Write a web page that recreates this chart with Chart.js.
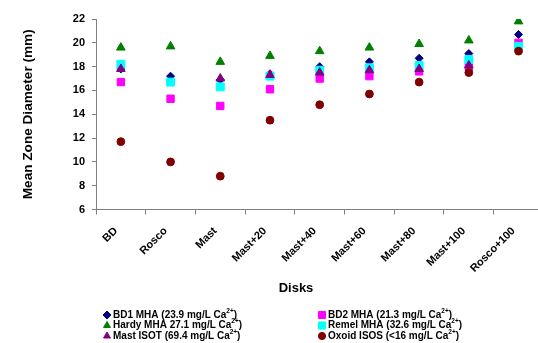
<!DOCTYPE html>
<html>
<head>
<meta charset="utf-8">
<script src="https://cdn.jsdelivr.net/npm/chart.js@4/dist/chart.umd.min.js"></script>
<style>
  html, body { margin: 0; padding: 0; background: #fff; overflow: hidden; }
  #wrap { width: 538px; height: 343px; overflow: hidden; }
  canvas { display: block; }
</style>
</head>
<body>
<div id="wrap"><canvas id="grafico" width="550" height="343"></canvas></div>
<script>
const discos = ['BD', 'Rosco', 'Mast', 'Mast+20', 'Mast+40', 'Mast+60', 'Mast+80', 'Mast+100', 'Rosco+100'];

const bd1Mha    = [17.8, 17.2, 16.9, 17.4, 18.0, 18.4, 18.7, 19.1, 20.7];
const bd2Mha    = [16.7, 15.3, 14.7, 16.1, 17.0, 17.2, 17.6, 18.0, 20.0];
const hardyMha  = [19.6, 19.7, 18.4, 18.9, 19.3, 19.6, 19.9, 20.2, 21.8];
const remelMha  = [18.2, 16.7, 16.3, 17.2, 17.7, 17.9, 18.1, 18.6, 19.7];
const mastIsot  = [17.8, null, 17.0, 17.3, 17.5, 17.7, 17.8, 18.1, null];
const oxoidIsos = [11.7, 10.0, 8.8, 13.5, 14.8, 15.7, 16.7, 17.5, 19.3];

const nombresSeries = [
  'BD1 MHA (23.9 mg/L Ca2+)',
  'BD2 MHA (21.3 mg/L Ca2+)',
  'Hardy MHA 27.1 mg/L Ca2+)',
  'Remel MHA (32.6 mg/L Ca2+)',
  'Mast ISOT (69.4 mg/L Ca2+)',
  'Oxoid ISOS (<16 mg/L Ca2+)'
];

const ticksY = [6, 8, 10, 12, 14, 16, 18, 20, 22];

const FUENTE = "'Liberation Sans', Arial, sans-serif";

const estilos = [
  { color: '#000080', forma: 'rectRot', radio: 4 },
  { color: '#FF00FF', forma: 'rect', radio: 5.2 },
  { color: '#008000', forma: 'triangle', radio: 5 },
  { color: '#00FFFF', forma: 'rect', radio: 5.6 },
  { color: '#800080', forma: 'triangle', radio: 5 },
  { color: '#800000', forma: 'circle', radio: 3.9 }
];

const valores = [bd1Mha, bd2Mha, hardyMha, remelMha, mastIsot, oxoidIsos];

const datasets = valores.map(function (serie, i) {
  return {
    label: nombresSeries[i].replace('Ca2+', 'Ca²⁺'),
    data: serie,
    showLine: false,
    pointStyle: estilos[i].forma,
    pointRadius: estilos[i].radio,
    pointHoverRadius: estilos[i].radio,
    pointBackgroundColor: estilos[i].color,
    pointBorderColor: estilos[i].color,
    pointBorderWidth: 1,
    backgroundColor: estilos[i].color,
    borderColor: estilos[i].color,
    order: valores.length - i
  };
});

function dibujarMarcador(ctx, forma, radio, x, y) {
  if (Chart.helpers && Chart.helpers.drawPoint) {
    Chart.helpers.drawPoint(ctx, { pointStyle: forma, radius: radio, borderWidth: 1, rotation: 0 }, x, y);
    return;
  }
  ctx.beginPath();
  ctx.arc(x, y, radio, 0, Math.PI * 2);
  ctx.fill();
}

const leyendaPropia = {
  id: 'leyendaPropia',
  afterDraw(chart) {
    const ctx = chart.ctx;
    ctx.save();

    // titulo del eje x
    ctx.fillStyle = '#000';
    ctx.font = 'bold 13px ' + FUENTE;
    ctx.textAlign = 'center';
    ctx.textBaseline = 'middle';
    ctx.fillText('Disks', 296, 288);

    const columnas = [107, 322];
    const filas = [315, 325.5, 336];
    ctx.textAlign = 'left';
    nombresSeries.forEach(function (nombre, i) {
      const col = columnas[i % 2];
      const fila = filas[Math.floor(i / 2)];
      ctx.fillStyle = estilos[i].color;
      ctx.strokeStyle = estilos[i].color;
      ctx.lineWidth = 1;
      const r = estilos[i].forma === 'rect' ? 5 : estilos[i].forma === 'circle' ? 3.6 : 4;
      dibujarMarcador(ctx, estilos[i].forma, r, col, fila);

      const partes = nombre.split('Ca2+');
      let x = col + 6;
      ctx.fillStyle = '#000';
      ctx.font = 'bold 10px ' + FUENTE;
      ctx.fillText(partes[0] + 'Ca', x, fila);
      x += ctx.measureText(partes[0] + 'Ca').width;
      ctx.font = 'bold 6.5px ' + FUENTE;
      ctx.fillText('2+', x, fila - 4);
      x += ctx.measureText('2+').width;
      ctx.font = 'bold 10px ' + FUENTE;
      ctx.fillText(partes[1], x, fila);
    });
    ctx.restore();
  }
};

new Chart(document.getElementById('grafico'), {
  type: 'scatter',
  data: { labels: discos, datasets: datasets },
  plugins: [leyendaPropia],
  options: {
    responsive: false,
    animation: false,
    events: [],
    layout: { padding: { top: 19, right: 4, left: 0, bottom: 0 } },
    plugins: {
      legend: { display: false },
      tooltip: { enabled: false }
    },
    scales: {
      x: {
        type: 'category',
        labels: discos,
        offset: true,
        grid: { offset: true, drawOnChartArea: false, color: '#808080', tickLength: 5 },
        border: { color: '#808080' },
        ticks: {
          color: '#000',
          font: { family: FUENTE, size: 11, weight: 'bold' },
          maxRotation: 45,
          minRotation: 45,
          padding: 10,
          labelOffset: -5,
          autoSkip: false
        },
        afterFit(scale) { scale.height = 133.5; }
      },
      y: {
        min: 6,
        max: 22,
        afterBuildTicks(scale) { scale.ticks = ticksY.map(v => ({ value: v })); },
        grid: { drawOnChartArea: false, color: '#808080', tickLength: 4 },
        border: { color: '#808080' },
        ticks: {
          color: '#000',
          font: { family: FUENTE, size: 11, weight: 'bold' },
          padding: 7
        },
        title: {
          display: true,
          text: 'Mean Zone Diameter (mm)',
          color: '#000',
          font: { family: FUENTE, size: 13.6, weight: 'bold' },
          padding: { top: 20, bottom: 0 }
        },
        afterFit(scale) { scale.width = 96; }
      }
    }
  }
});
</script>
</body>
</html>
